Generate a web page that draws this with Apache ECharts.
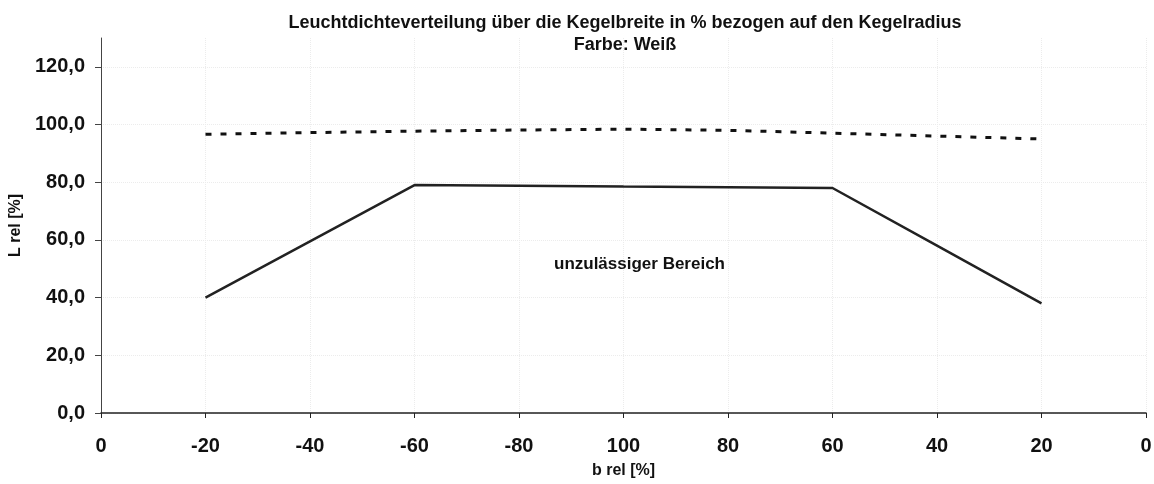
<!DOCTYPE html>
<html>
<head>
<meta charset="utf-8">
<script src="https://cdn.jsdelivr.net/npm/echarts@6/dist/echarts.min.js"></script>
<style>
  html, body { margin: 0; padding: 0; background: #fff; }
  #chart { width: 1154px; height: 484px; }
</style>
</head>
<body>
<div id="chart"></div>
<script>
// x-Achse: b rel [%]
var categories = ['0', '-20', '-40', '-60', '-80', '100', '80', '60', '40', '20', '0'];
// Grenzkurve (durchgezogen)
var grenze = [null, 40, 59.5, 79, 78.8, 78.5, 78.3, 78, 58, 38, null];
// Messkurve (gestrichelt)
var messung = [null, 96.6, 97.2, 97.7, 98.1, 98.4, 98, 97, 96, 95, null];
var yTicks = [0, 20, 40, 60, 80, 100, 120];

var chart = echarts.init(document.getElementById('chart'));
var font = '"Liberation Sans", Arial, sans-serif';

chart.setOption({
  backgroundColor: '#fff',
  animation: false,
  title: {
    text: 'Leuchtdichteverteilung über die Kegelbreite in % bezogen auf den Kegelradius\nFarbe: Weiß',
    left: 620,
    top: 7,
    textAlign: 'center',
    textStyle: {
      fontFamily: font,
      fontWeight: 'bold',
      fontSize: 18,
      color: '#111',
      lineHeight: 22
    }
  },
  grid: {
    left: 101,
    right: 8,
    top: 38,
    bottom: 71,
    outerBoundsMode: 'none'
  },
  xAxis: {
    type: 'category',
    data: categories,
    boundaryGap: false,
    name: 'b rel [%]',
    nameLocation: 'middle',
    nameGap: 50,
    nameTextStyle: { fontFamily: font, fontWeight: 'bold', fontSize: 16, color: '#111' },
    axisLine: { lineStyle: { color: '#222', width: 1.5 } },
    axisTick: { show: true, length: 5, lineStyle: { color: '#222' } },
    axisLabel: {
      fontFamily: font, fontWeight: 'bold', fontSize: 20, color: '#111',
      margin: 23, interval: 0
    },
    splitLine: { show: true, lineStyle: { color: '#ececec', type: 'dotted' } }
  },
  yAxis: {
    type: 'value',
    min: 0,
    max: 130,
    interval: 20,
    name: 'L rel [%]',
    nameLocation: 'middle',
    nameGap: 72,
    nameRotate: 90,
    nameTextStyle: { fontFamily: font, fontWeight: 'bold', fontSize: 16, color: '#111' },
    axisLine: { show: true, lineStyle: { color: '#444', width: 1 } },
    axisTick: { show: true, length: 6, customValues: yTicks, lineStyle: { color: '#444' } },
    axisLabel: {
      customValues: yTicks,
      fontFamily: font, fontWeight: 'bold', fontSize: 20, color: '#111', margin: 16,
      formatter: function (v) { return v.toFixed(1).replace('.', ','); }
    },
    splitLine: { show: true, lineStyle: { color: '#ececec', type: 'dotted' } }
  },
  series: [
    {
      name: 'Grenze',
      type: 'line',
      data: grenze,
      symbol: 'none',
      lineStyle: { color: '#222', width: 2.5 },
      markPoint: {
        symbol: 'rect',
        symbolSize: 1,
        itemStyle: { color: 'rgba(0,0,0,0)' },
        label: {
          show: true,
          position: 'inside',
          offset: [16, 0],
          formatter: 'unzulässiger Bereich',
          fontFamily: font, fontWeight: 'bold', fontSize: 17, color: '#111'
        },
        data: [{ coord: [5, 51.5] }]
      }
    },
    {
      name: 'Messung',
      type: 'line',
      data: messung,
      symbol: 'none',
      lineStyle: { color: '#111', width: 3, type: [6, 9] }
    }
  ]
});
</script>
</body>
</html>
